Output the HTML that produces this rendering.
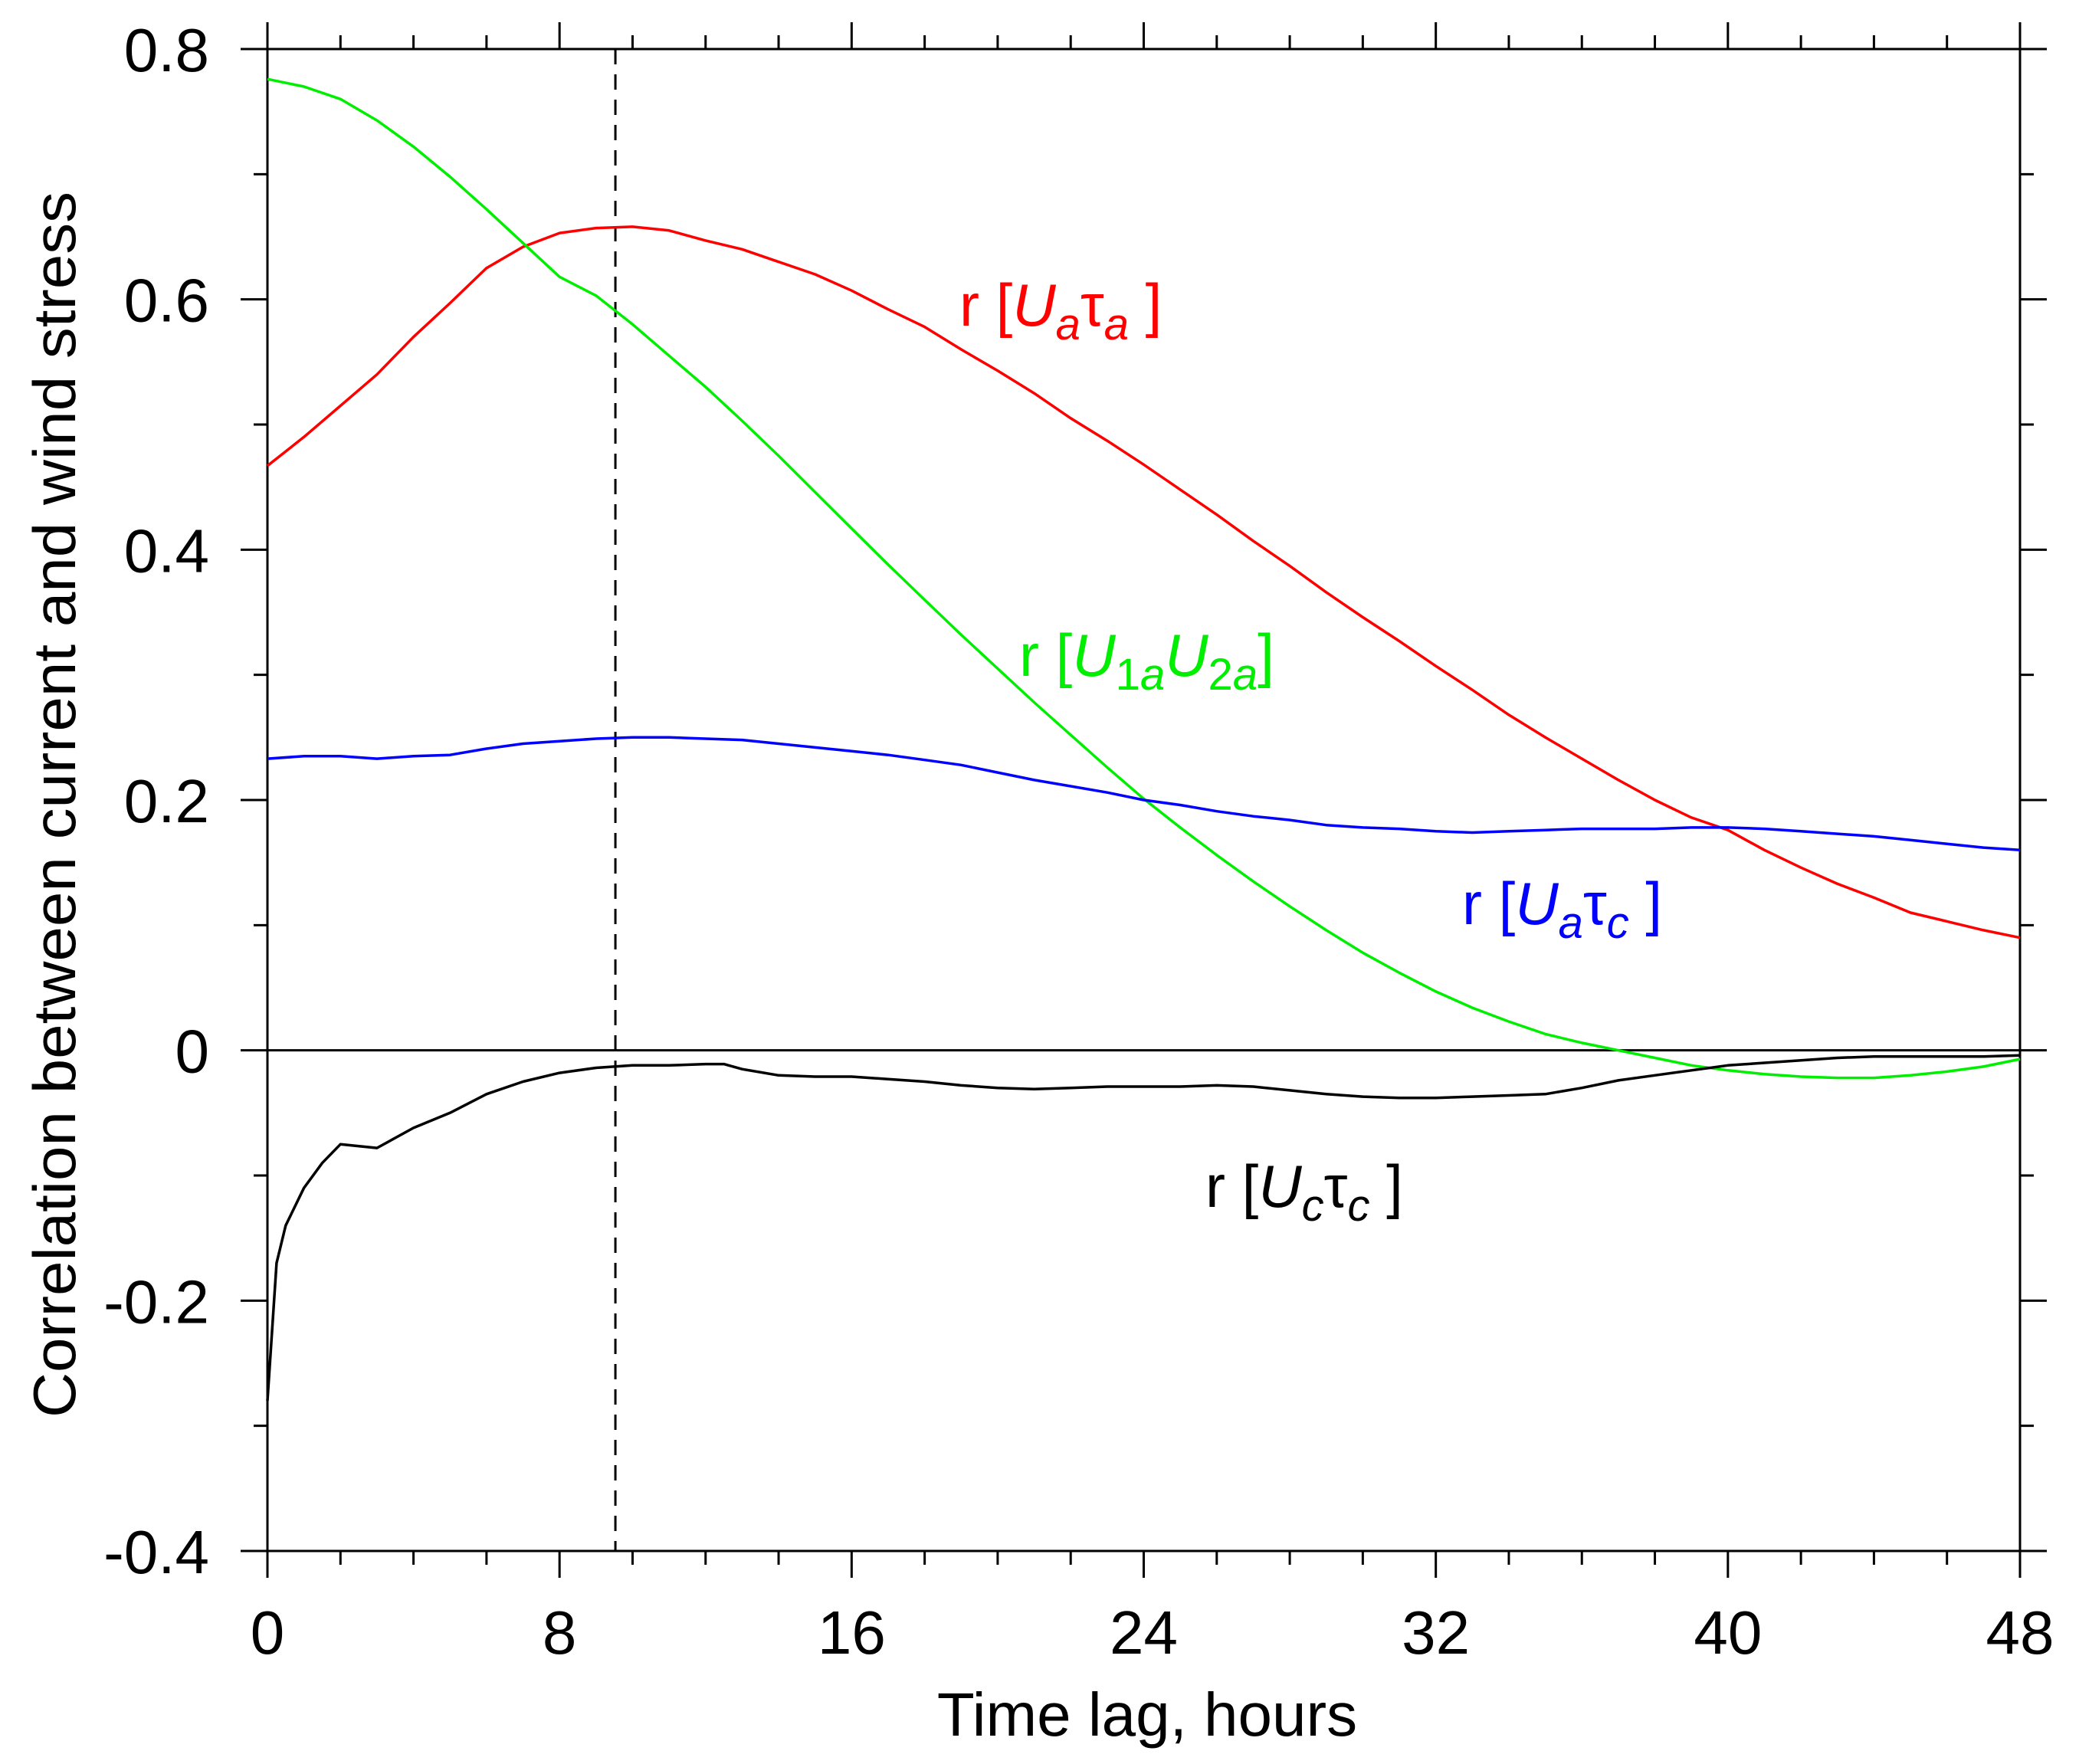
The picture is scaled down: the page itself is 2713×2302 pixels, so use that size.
<!DOCTYPE html>
<html><head><meta charset="utf-8"><style>
html,body{margin:0;padding:0;background:#fff;}
svg{display:block;font-family:"Liberation Sans","Noto Sans CJK SC",sans-serif;}
</style></head><body>
<svg id="chart" width="2713" height="2302" viewBox="0 0 2713 2302" xmlns="http://www.w3.org/2000/svg">
<g id="axes"></g>
<g id="series"></g>
<text x="1497" y="2265" font-size="80" text-anchor="middle" fill="#000">Time lag, hours</text>
<text transform="translate(98,1050) rotate(-90)" font-size="78" text-anchor="middle" fill="#000" textLength="1600" lengthAdjust="spacingAndGlyphs">Correlation between current and wind stress</text>
<text x="1252" y="425" font-size="78" fill="#ff0000">r [<tspan font-style="italic">U</tspan><tspan font-size="58" dy="18" font-style="italic">a</tspan><tspan dy="-18">τ</tspan><tspan font-size="58" dy="18" font-style="italic">a</tspan><tspan dy="-18"> ]</tspan></text>
<text x="1330" y="882" font-size="78" fill="#00ee00">r [<tspan font-style="italic">U</tspan><tspan font-size="58" dy="18">1</tspan><tspan font-size="58" font-style="italic">a</tspan><tspan dy="-18" font-style="italic">U</tspan><tspan font-size="58" dy="18">2</tspan><tspan font-size="58" font-style="italic">a</tspan><tspan dy="-18">]</tspan></text>
<text x="1908" y="1206" font-size="78" fill="#0000ff">r [<tspan font-style="italic">U</tspan><tspan font-size="58" dy="18" font-style="italic">a</tspan><tspan dy="-18">τ</tspan><tspan font-size="58" dy="18" font-style="italic">c</tspan><tspan dy="-18"> ]</tspan></text>
<text x="1573" y="1575" font-size="78" fill="#000">r [<tspan font-style="italic">U</tspan><tspan font-size="58" dy="18" font-style="italic">c</tspan><tspan dy="-18">τ</tspan><tspan font-size="58" dy="18" font-style="italic">c</tspan><tspan dy="-18"> ]</tspan></text>
</svg>
<script>
const hours = [0,1,2,3,4,5,6,7,8,9,10,11,12,13,14,15,16,17,18,19,20,21,22,23,24,25,26,27,28,29,30,31,32,33,34,35,36,37,38,39,40,41,42,43,44,45,46,47,48];
const redUaTaua = [0.467,0.49,0.515,0.54,0.57,0.597,0.625,0.642,0.653,0.657,0.658,0.655,0.647,0.64,0.63,0.62,0.607,0.592,0.578,0.56,0.543,0.525,0.505,0.487,0.468,0.448,0.428,0.407,0.387,0.366,0.346,0.327,0.307,0.288,0.268,0.25,0.233,0.216,0.2,0.186,0.176,0.16,0.146,0.133,0.122,0.11,0.103,0.096,0.09];
const greenU1aU2a = [0.776,0.77,0.76,0.743,0.722,0.698,0.672,0.645,0.618,0.603,0.58,0.555,0.53,0.503,0.475,0.446,0.417,0.388,0.36,0.332,0.305,0.278,0.252,0.226,0.201,0.178,0.156,0.135,0.115,0.096,0.078,0.062,0.047,0.034,0.023,0.013,0.006,0.0,-0.006,-0.012,-0.016,-0.019,-0.021,-0.022,-0.022,-0.02,-0.017,-0.013,-0.007];
const blueUaTauc = [0.233,0.235,0.235,0.233,0.235,0.236,0.241,0.245,0.247,0.249,0.25,0.25,0.249,0.248,0.245,0.242,0.239,0.236,0.232,0.228,0.222,0.216,0.211,0.206,0.2,0.196,0.191,0.187,0.184,0.18,0.178,0.177,0.175,0.174,0.175,0.176,0.177,0.177,0.177,0.178,0.178,0.177,0.175,0.173,0.171,0.168,0.165,0.162,0.16];
const blackHours = [0,0.25,0.5,1,1.5,2,3,4,5,6,7,8,9,10,11,12,12.5,13,14,15,16,17,18,19,20,21,22,23,24,25,26,27,28,29,30,31,32,33,34,35,36,37,38,39,40,41,42,43,44,45,46,47,48];
const blackUcTauc = [-0.28,-0.17,-0.14,-0.11,-0.09,-0.075,-0.078,-0.062,-0.05,-0.035,-0.025,-0.018,-0.014,-0.012,-0.012,-0.011,-0.011,-0.015,-0.02,-0.021,-0.021,-0.023,-0.025,-0.028,-0.03,-0.031,-0.03,-0.029,-0.029,-0.029,-0.028,-0.029,-0.032,-0.035,-0.037,-0.038,-0.038,-0.037,-0.036,-0.035,-0.03,-0.024,-0.02,-0.016,-0.012,-0.01,-0.008,-0.006,-0.005,-0.005,-0.005,-0.005,-0.004];
const xTickLabels = ["0","8","16","24","32","40","48"];
const yTickLabels = ["0.8","0.6","0.4","0.2","0","-0.2","-0.4"];
const markerHour = 9.53;

const X0=349, X1=2636, Y0=64, Y1=2024, XMIN=0, XMAX=48, YMIN=-0.4, YMAX=0.8;
function xs(v){return X0+(v-XMIN)/(XMAX-XMIN)*(X1-X0);}
function ys(v){return Y1-(v-YMIN)/(YMAX-YMIN)*(Y1-Y0);}
const NS="http://www.w3.org/2000/svg";
function mk(tag,attrs,parent){const e=document.createElementNS(NS,tag);for(const k in attrs)e.setAttribute(k,attrs[k]);parent.appendChild(e);return e;}
const axes=document.getElementById('axes'), series=document.getElementById('series');

const frame=mk('rect',{x:X0,y:Y0,width:X1-X0,height:Y1-Y0,fill:'none',stroke:'#000','stroke-width':3},axes);


const zl=mk('line',{x1:X0,x2:X1,y1:ys(0),y2:ys(0),stroke:'#000','stroke-width':3},axes);



for(let h=0;h<=48;h+=2){
  const major=h%8===0, L=major?35:18, x=xs(h);
  const t1=mk('line',{x1:x,x2:x,y1:Y1,y2:Y1+L,stroke:'#000','stroke-width':3},axes);
  
  
  const t2=mk('line',{x1:x,x2:x,y1:Y0,y2:Y0-L,stroke:'#000','stroke-width':3},axes);
  
  
}
xTickLabels.forEach((s,i)=>{
  const t=mk('text',{x:xs(i*8),y:2158,'font-size':80,'text-anchor':'middle',fill:'#000'},axes);
  t.textContent=s;
  
  
});
for(let k=0;k<=12;k++){
  const v=YMAX-k*0.1, major=k%2===0, L=major?35:18, y=ys(v);
  const t1=mk('line',{x1:X0,x2:X0-L,y1:y,y2:y,stroke:'#000','stroke-width':3},axes);
  
  
  const t2=mk('line',{x1:X1,x2:X1+L,y1:y,y2:y,stroke:'#000','stroke-width':3},axes);
  
  
}
yTickLabels.forEach((s,i)=>{
  const t=mk('text',{x:273,y:ys(YMAX-i*0.2)+29,'font-size':80,'text-anchor':'end',fill:'#000'},axes);
  t.textContent=s;
  
  
});
const ml=mk('line',{x1:xs(markerHour),x2:xs(markerHour),y1:Y0,y2:Y1,stroke:'#000','stroke-width':3,'stroke-dasharray':'20 13'},axes);



function line(xsArr,vals,color,name){
  const d=vals.map((v,i)=>(i?'L':'M')+xs(xsArr[i]).toFixed(1)+','+ys(v).toFixed(1)).join('');
  const p=mk('path',{d:d,fill:'none',stroke:color,'stroke-width':3.5,'stroke-linejoin':'round'},series);
  
  
}
line(hours,redUaTaua,'#ff0000','series-ua-taua');
line(hours,greenU1aU2a,'#00ee00','series-u1a-u2a');
line(hours,blueUaTauc,'#0000ff','series-ua-tauc');
line(blackHours,blackUcTauc,'#000000','series-uc-tauc');
</script>
</body></html>
